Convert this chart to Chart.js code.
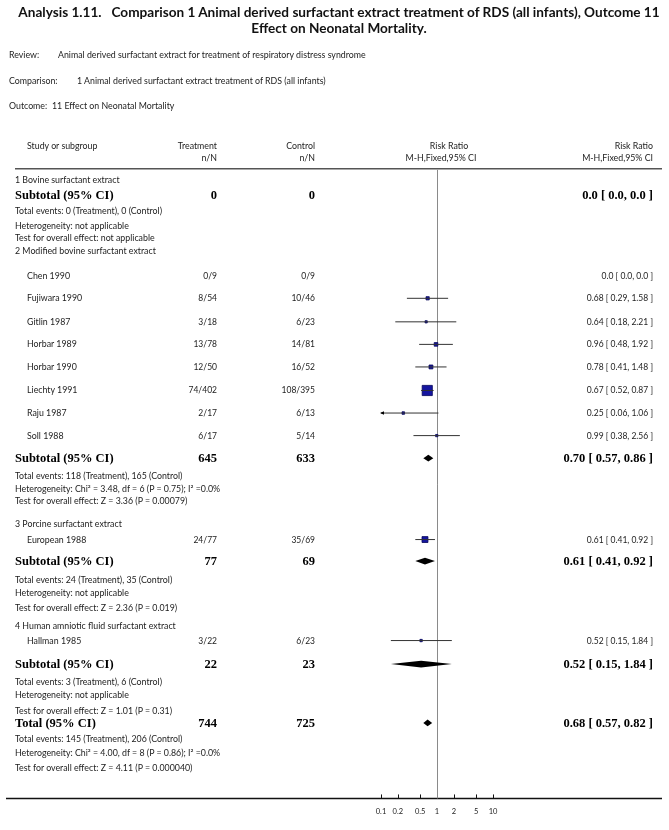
<!DOCTYPE html>
<html>
<head>
<meta charset="utf-8">
<script src="https://cdn.jsdelivr.net/npm/chart.js@4.4.1/dist/chart.umd.min.js"></script>
<style>
  body { margin: 0; background: #fff; }
  #wrap { position: relative; width: 669px; height: 830px; overflow: hidden; }
  #c { position: absolute; left: 0; top: 0; }
  .t { position: absolute; white-space: nowrap; line-height: 1; transform: translateY(-50%);
       font-family: Lato, "Open Sans", sans-serif; font-size: 8.8px; color: #222; }
  .n { font-size: 8.5px; }
  .ax { font-size: 7.5px; }
  .b { font-family: "Liberation Serif", "DejaVu Serif", serif; font-weight: bold; font-size: 12.5px; color: #000; }
  .title { position: absolute; left: 0; width: 678px; text-align: center; line-height: 1;
           font-family: Lato, sans-serif; font-weight: bold; font-size: 13.6px; color: #111; }
</style>
</head>
<body>
<div id="wrap">
  <canvas id="c" width="669" height="830"></canvas>
  <div class="title" style="top:6px">Analysis 1.11.&nbsp;&nbsp;&nbsp;Comparison 1 Animal derived surfactant extract treatment of RDS (all infants), Outcome 11</div>
  <div class="title" style="top:22px">Effect on Neonatal Mortality.</div>
  <div class="t" style="left:9px;top:55px">Review:</div>
  <div class="t" style="left:58px;top:55px">Animal derived surfactant extract for treatment of respiratory distress syndrome</div>
  <div class="t" style="left:9px;top:81px">Comparison:</div>
  <div class="t" style="left:77px;top:81px">1 Animal derived surfactant extract treatment of RDS (all infants)</div>
  <div class="t" style="left:9px;top:106px">Outcome:</div>
  <div class="t" style="left:52px;top:106px">11 Effect on Neonatal Mortality</div>
  <div id="overlay"></div>
</div>
<script>
// studies
const studies   = ['Chen 1990', 'Fujiwara 1990', 'Gitlin 1987', 'Horbar 1989', 'Horbar 1990',
                   'Liechty 1991', 'Raju 1987', 'Soll 1988', 'European 1988', 'Hallman 1985'];
const treatment = ['0/9', '8/54', '3/18', '13/78', '12/50', '74/402', '2/17', '6/17', '24/77', '3/22'];
const control   = ['0/9', '10/46', '6/23', '14/81', '16/52', '108/395', '6/13', '5/14', '35/69', '6/23'];
const rr        = [null, 0.68, 0.64, 0.96, 0.78, 0.67, 0.25, 0.99, 0.61, 0.52];
const rrLow     = [null, 0.29, 0.18, 0.48, 0.41, 0.52, 0.06, 0.38, 0.41, 0.15];
const rrHigh    = [null, 1.58, 2.21, 1.92, 1.48, 0.87, 1.06, 2.56, 0.92, 1.84];
const rrText    = ['0.0 [ 0.0, 0.0 ]', '0.68 [ 0.29, 1.58 ]', '0.64 [ 0.18, 2.21 ]', '0.96 [ 0.48, 1.92 ]',
                   '0.78 [ 0.41, 1.48 ]', '0.67 [ 0.52, 0.87 ]', '0.25 [ 0.06, 1.06 ]', '0.99 [ 0.38, 2.56 ]',
                   '0.61 [ 0.41, 0.92 ]', '0.52 [ 0.15, 1.84 ]'];
const weights   = [0, 5.2, 2.5, 6.6, 7.5, 52.0, 3.2, 2.6, 17.6, 2.8];   // % weight

// subgroups
const groups    = ['1 Bovine surfactant extract', '2 Modified bovine surfactant extract',
                   '3 Porcine surfactant extract', '4 Human amniotic fluid surfactant extract'];
const subTreat  = ['0', '645', '77', '22'];
const subCtrl   = ['0', '633', '69', '23'];
const subRR     = [null, 0.70, 0.61, 0.52];
const subLow    = [null, 0.57, 0.41, 0.15];
const subHigh   = [null, 0.86, 0.92, 1.84];
const subText   = ['0.0 [ 0.0, 0.0 ]', '0.70 [ 0.57, 0.86 ]', '0.61 [ 0.41, 0.92 ]', '0.52 [ 0.15, 1.84 ]'];
const subEvents = ['Total events: 0 (Treatment), 0 (Control)', 'Total events: 118 (Treatment), 165 (Control)',
                   'Total events: 24 (Treatment), 35 (Control)', 'Total events: 3 (Treatment), 6 (Control)'];
const subHet    = ['Heterogeneity: not applicable', 'Heterogeneity: Chi² = 3.48, df = 6 (P = 0.75); I² =0.0%',
                   'Heterogeneity: not applicable', 'Heterogeneity: not applicable'];
const subTest   = ['Test for overall effect: not applicable', 'Test for overall effect: Z = 3.36 (P = 0.00079)',
                   'Test for overall effect: Z = 2.36 (P = 0.019)', 'Test for overall effect: Z = 1.01 (P = 0.31)'];

// overall
const totalTreat = '744';
const totalCtrl  = '725';
const totalRR    = 0.68, totalLow = 0.57, totalHigh = 0.82;
const totalText  = '0.68 [ 0.57, 0.82 ]';
const totalLines = ['Total events: 145 (Treatment), 206 (Control)',
                    'Heterogeneity: Chi² = 4.00, df = 8 (P = 0.86); I² =0.0%',
                    'Test for overall effect: Z = 4.11 (P = 0.000040)'];

const axisTicks = [0.1, 0.2, 0.5, 1, 2, 5, 10];

// row layout (y positions on the page)
const groupY    = [175, 248, 526, 630];
const studyY    = [273, 296, 320, 343, 366, 390, 413, 436, 542, 645];
const subY      = [191, 459, 564, 669];
const subInfoY  = [[207, 222, 235], [477, 490, 503], [583, 597, 612], [687, 701, 717]];
const totalY    = 729;
const totalInfoY = [745, 760, 775];
const COL = { group: 15, study: 27, treat: 217, ctrl: 315, right: 653 };
const W = 669;

const ciSets = studies.map((s, i) => ({
  type: 'line',
  data: rr[i] === null ? [] : [{ x: rrLow[i], y: studyY[i] }, { x: rrHigh[i], y: studyY[i] }],
  borderColor: '#333', borderWidth: 1, pointRadius: 0, order: 0
}));

const boxSet = {
  type: 'scatter',
  data: studies.map((s, i) => ({ x: rr[i], y: studyY[i] })).filter(p => p.x !== null),
  pointStyle: 'rect',
  pointRadius: weights.filter((w, i) => rr[i] !== null).map(w => Math.max(1.1, Math.sqrt(w) * 1.0)),
  backgroundColor: '#1515a0', borderColor: '#06065a', borderWidth: 0.8, order: 1
};

const forestPlugin = {
  id: 'forest',
  beforeDatasetsDraw(chart) {
    const ctx = chart.ctx, x = chart.scales.x, y = chart.scales.y;
    ctx.save();
    // header rule
    ctx.strokeStyle = '#555'; ctx.lineWidth = 1.5;
    ctx.beginPath(); ctx.moveTo(15, y.getPixelForValue(164)); ctx.lineTo(662, y.getPixelForValue(164)); ctx.stroke();
    // bottom axis
    const yb = y.getPixelForValue(806);
    ctx.strokeStyle = '#111';
    ctx.beginPath(); ctx.moveTo(6, yb); ctx.lineTo(662, yb); ctx.stroke();
    ctx.lineWidth = 1;
    axisTicks.forEach(v => {
      const px = Math.round(x.getPixelForValue(v)) + 0.5;
      ctx.beginPath(); ctx.moveTo(px, yb - 4); ctx.lineTo(px, yb); ctx.stroke();
    });
    // line of no effect
    const x1 = Math.round(x.getPixelForValue(1)) + 0.5;
    ctx.strokeStyle = '#8a8a8a';
    ctx.beginPath(); ctx.moveTo(x1, y.getPixelForValue(165)); ctx.lineTo(x1, yb); ctx.stroke();
    ctx.restore();
  },
  afterDatasetsDraw(chart) {
    const ctx = chart.ctx, x = chart.scales.x, y = chart.scales.y;
    ctx.save();
    ctx.fillStyle = '#000';
    const diamond = (est, lo, hi, row) => {
      const py = y.getPixelForValue(row);
      ctx.beginPath();
      ctx.moveTo(x.getPixelForValue(lo), py);
      ctx.lineTo(x.getPixelForValue(est), py - 3.4);
      ctx.lineTo(x.getPixelForValue(hi), py);
      ctx.lineTo(x.getPixelForValue(est), py + 3.4);
      ctx.closePath(); ctx.fill();
    };
    subRR.forEach((v, g) => { if (v !== null) diamond(v, subLow[g], subHigh[g], subY[g]); });
    diamond(totalRR, totalLow, totalHigh, totalY);
    // arrows where a CI leaves the axis range
    studies.forEach((s, i) => {
      if (rr[i] === null) return;
      const py = y.getPixelForValue(studyY[i]);
      if (rrLow[i] < x.min) {
        const px = x.getPixelForValue(x.min);
        ctx.beginPath(); ctx.moveTo(px - 1, py); ctx.lineTo(px + 3, py - 1.8); ctx.lineTo(px + 3, py + 1.8); ctx.closePath(); ctx.fill();
      }
      if (rrHigh[i] > x.max) {
        const px = x.getPixelForValue(x.max);
        ctx.beginPath(); ctx.moveTo(px + 1, py); ctx.lineTo(px - 3, py - 1.8); ctx.lineTo(px - 3, py + 1.8); ctx.closePath(); ctx.fill();
      }
    });
    ctx.restore();
  },
  afterRender(chart) {
    if (chart._textDone) return;
    chart._textDone = true;
    const x = chart.scales.x, y = chart.scales.y;
    const ov = document.getElementById('overlay');
    const put = (txt, px, row, align, cls) => {
      const el = document.createElement('div');
      el.className = 't' + (cls ? ' ' + cls : '');
      el.textContent = txt;
      el.style.top = y.getPixelForValue(row) + 'px';
      if (align === 'right') el.style.right = (W - px) + 'px';
      else if (align === 'center') { el.style.left = px + 'px'; el.style.transform = 'translate(-50%,-50%)'; }
      else el.style.left = px + 'px';
      ov.appendChild(el);
    };
    const xc = x.getPixelForValue(1);
    // column headers
    put('Study or subgroup', COL.study, 141, 'left');
    put('Treatment', COL.treat, 141, 'right');
    put('n/N', COL.treat, 153, 'right');
    put('Control', COL.ctrl, 141, 'right');
    put('n/N', COL.ctrl, 153, 'right');
    put('Risk Ratio', xc + 12, 141, 'center');
    put('M-H,Fixed,95% CI', xc + 4, 153, 'center');
    put('Risk Ratio', COL.right, 141, 'right');
    put('M-H,Fixed,95% CI', COL.right, 153, 'right');
    // studies
    studies.forEach((s, i) => {
      put(s, COL.study, studyY[i], 'left');
      put(treatment[i], COL.treat, studyY[i], 'right', 'n');
      put(control[i], COL.ctrl, studyY[i], 'right', 'n');
      put(rrText[i], COL.right, studyY[i], 'right', 'n');
    });
    // subgroups
    groups.forEach((g, k) => {
      put(g, COL.group, groupY[k], 'left');
      put('Subtotal (95% CI)', COL.group, subY[k], 'left', 'b');
      put(subTreat[k], COL.treat, subY[k], 'right', 'b');
      put(subCtrl[k], COL.ctrl, subY[k], 'right', 'b');
      put(subText[k], COL.right, subY[k], 'right', 'b');
      put(subEvents[k], COL.group, subInfoY[k][0], 'left');
      put(subHet[k], COL.group, subInfoY[k][1], 'left');
      put(subTest[k], COL.group, subInfoY[k][2], 'left');
    });
    // total
    put('Total (95% CI)', COL.group, totalY, 'left', 'b');
    put(totalTreat, COL.treat, totalY, 'right', 'b');
    put(totalCtrl, COL.ctrl, totalY, 'right', 'b');
    put(totalText, COL.right, totalY, 'right', 'b');
    totalLines.forEach((t, k) => put(t, COL.group, totalInfoY[k], 'left'));
    // axis labels
    axisTicks.forEach(v => put(String(v), x.getPixelForValue(v), 820, 'center', 'ax'));
  }
};

new Chart(document.getElementById('c'), {
  data: { datasets: [...ciSets, boxSet] },
  options: {
    responsive: false,
    animation: false,
    events: [],
    layout: { padding: { left: 381, right: W - 493, top: 0, bottom: 0 } },
    plugins: { legend: { display: false }, tooltip: { enabled: false } },
    scales: {
      x: { type: 'logarithmic', min: 0.1, max: 10, display: false },
      y: { type: 'linear', min: 0, max: 830, reverse: true, display: false }
    }
  },
  plugins: [forestPlugin]
});
</script>
</body>
</html>
